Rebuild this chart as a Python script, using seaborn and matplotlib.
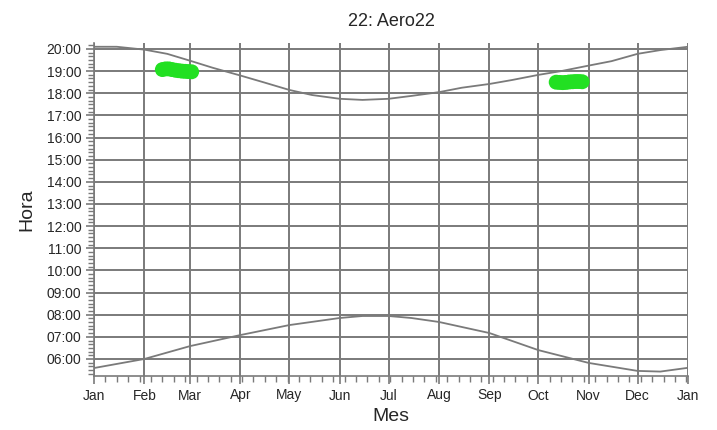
import matplotlib
matplotlib.use("Agg")
import matplotlib.pyplot as plt
import seaborn as sns
import pandas as pd
from matplotlib.ticker import FixedLocator, MultipleLocator, FuncFormatter

# day of year (0 = 1 Jan) and hours
sunset_day = [0, 14, 31, 45, 59, 73, 90, 104, 120, 134, 151, 165, 181, 195,
              212, 226, 243, 257, 273, 287, 304, 318, 334, 348, 365]
sunset_hour = [20.10, 20.10, 19.97, 19.78, 19.47, 19.15, 18.80, 18.50, 18.15, 17.92,
               17.75, 17.70, 17.75, 17.88, 18.05, 18.25, 18.42, 18.60, 18.83, 19.00,
               19.25, 19.45, 19.78, 19.95, 20.10]

sunrise_day = [0, 31, 59, 90, 120, 151, 165, 181, 195, 212, 243, 273, 304, 334, 348, 365]
sunrise_hour = [5.59, 6.00, 6.58, 7.08, 7.53, 7.85, 7.94, 7.94, 7.85, 7.67, 7.17,
                6.40, 5.82, 5.46, 5.43, 5.60]

# observed events (the two green patches)
event_day = [42, 44, 46, 48, 50, 52, 54, 56, 58, 60,
             284, 286, 288, 290, 292, 294, 296, 298, 300]
event_hour = [19.07, 19.10, 19.10, 19.07, 19.04, 19.02, 19.0, 18.99, 18.98, 18.97,
              18.50, 18.49, 18.48, 18.49, 18.51, 18.52, 18.53, 18.53, 18.52]

month_start = [0, 31, 59, 90, 120, 151, 181, 212, 243, 273, 304, 334, 365]
month_labels = ["Jan", "Feb", "Mar", "Apr", "May", "Jun", "Jul", "Aug", "Sep",
                "Oct", "Nov", "Dec", "Jan"]

sns.set_style("white")
plt.rcParams["font.family"] = ["Liberation Sans", "DejaVu Sans"]

fig = plt.figure(figsize=(7.17, 4.30), dpi=100)
ax = fig.add_axes([94 / 717, 1 - 376 / 430, 594 / 717, 333 / 430])

grey = "#7a7a7a"

sns.lineplot(x=sunset_day, y=sunset_hour, ax=ax, color=grey, lw=1.3)
sns.lineplot(x=sunrise_day, y=sunrise_hour, ax=ax, color=grey, lw=1.3)
sns.scatterplot(x=event_day, y=event_hour, ax=ax, color="#22e022", s=115,
                edgecolor="none", zorder=4)

ax.set_xlim(0, 365)
ax.set_ylim(5.23, 20.27)

ax.xaxis.set_major_locator(FixedLocator(month_start))
ax.set_xticklabels(month_labels)
ax.xaxis.set_minor_locator(MultipleLocator(7))
ax.yaxis.set_major_locator(FixedLocator(list(range(6, 21))))
ax.yaxis.set_major_formatter(FuncFormatter(lambda v, p: "%02d:00" % int(round(v))))
ax.yaxis.set_minor_locator(MultipleLocator(1 / 6))

ax.grid(True, which="major", color=grey, lw=1.4)
ax.set_axisbelow(True)
ax.tick_params(which="major", direction="out", length=6, width=1.2, color=grey,
               labelsize=10, bottom=True, left=True, pad=3)
ax.tick_params(which="minor", direction="out", length=4, width=1.0, color=grey,
               bottom=True, left=True)

for side in ["top", "right"]:
    ax.spines[side].set_visible(False)
for side in ["left", "bottom"]:
    ax.spines[side].set_color(grey)
    ax.spines[side].set_linewidth(1.2)

ax.set_title("22: Aero22", fontsize=13, pad=12)
ax.set_xlabel("Mes", fontsize=14, labelpad=4)
ax.set_ylabel("Hora", fontsize=14, labelpad=8)

fig.savefig("out.png", dpi=100)
